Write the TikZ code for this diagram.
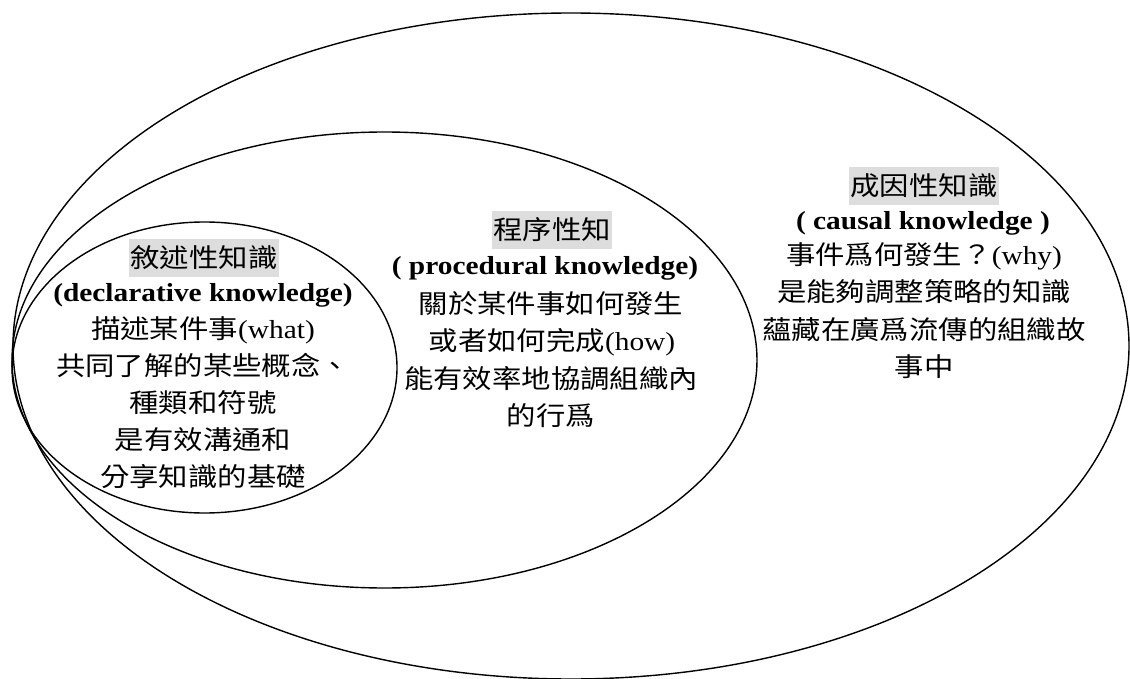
\documentclass[tikz,border=0pt]{standalone}
\usepackage{fontspec}
\setmainfont[FakeStretch=1.13]{Liberation Serif}
\newfontfamily\cjk[FakeStretch=1.13]{Noto Sans CJK TC}
\definecolor{hl}{RGB}{221,221,221}
\begin{document}
\begin{tikzpicture}[x=1pt,y=-1pt,
  ring/.style={draw=black, line width=1.4pt},
  zh/.style={anchor=base, inner sep=0pt, font=\fontsize{26}{30}\selectfont\cjk},
  mix/.style={anchor=base, inner sep=0pt, font=\fontsize{26}{30}\selectfont},
  en/.style={anchor=base, inner sep=0pt, font=\fontsize{26}{30}\selectfont\bfseries},
  ttl/.style={fill=hl, inner xsep=1.2pt, inner ysep=0pt, text height=21pt, text depth=2pt,
              minimum height=38pt, font=\fontsize{26}{30}\selectfont\cjk}]
\useasboundingbox (0,0) rectangle (1130,679);

% nested ellipses
\draw[ring] (571,346) ellipse [x radius=558pt, y radius=333pt];
\draw[ring] (384.5,360) ellipse [x radius=372.5pt, y radius=228pt];
\draw[ring] (204.5,367.5) ellipse [x radius=192.5pt, y radius=145.5pt];

% declarative knowledge
\node[ttl] (dT) at (204,258) {敘述性知識};
\node[en]  (dE) at (203,301) {(declarative knowledge)};
\node[mix] (d1) at (203,338) {{\cjk 描述某件事}(what)};
\node[zh]  (d2) at (203,375) {共同了解的某些概念、};
\node[zh]  (d3) at (203,412) {種類和符號};
\node[zh]  (d4) at (203,449) {是有效溝通和};
\node[zh]  (d5) at (203,486) {分享知識的基礎};

% procedural knowledge
\node[ttl] (pT) at (552,230.5) {程序性知};
\node[en]  (pE) at (545,275) {( procedural knowledge)};
\node[zh]  (p1) at (551,313) {關於某件事如何發生};
\node[mix] (p2) at (552,350.5) {{\cjk 或者如何完成}(how)};
\node[zh]  (p3) at (551,388) {能有效率地協調組織內};
\node[zh]  (p4) at (551,425.5) {的行爲};

% causal knowledge
\node[ttl] (cT) at (924,186.5) {成因性知識};
\node[en]  (cE) at (923,230) {( causal knowledge )};
\node[mix] (c1) at (924,265) {{\cjk 事件爲何發生？}(why)};
\node[zh]  (c2) at (924,301.5) {是能夠調整策略的知識};
\node[zh]  (c3) at (924,339) {蘊藏在廣爲流傳的組織故};
\node[zh]  (c4) at (924,376) {事中};
\end{tikzpicture}
\end{document}
